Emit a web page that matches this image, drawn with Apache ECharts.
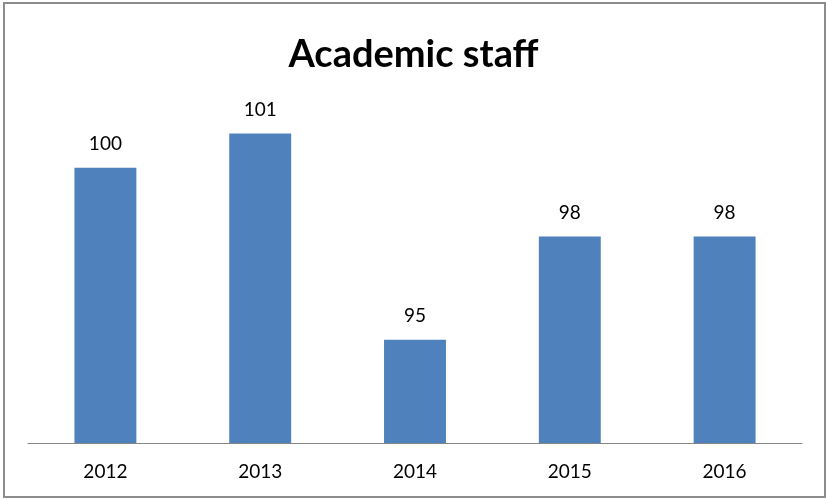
<!DOCTYPE html>
<html style="height: 100%">
<head>
    <meta charset="utf-8">
</head>
<body style="height: 100%; margin: 0">
<div id="container" style="width: 827px; height: 499px"></div>
<script type="text/javascript" src="https://cdn.jsdelivr.net/npm/echarts@6/dist/echarts.min.js"></script>
<script type="text/javascript">
    var years = ['2012', '2013', '2014', '2015', '2016'];
    var staff = [100, 101, 95, 98, 98];

    var myChart = echarts.init(document.getElementById("container"));
    var option = {
        backgroundColor: '#fff',
        title: {
            text: 'Academic staff',
            left: 'center',
            top: 31,
            textStyle: {fontFamily: 'Lato', fontWeight: 'bold', fontSize: 38, color: '#000'}
        },
        graphic: [{
            type: 'rect',
            shape: {x: 4, y: 3, width: 821, height: 494},
            style: {fill: null, stroke: '#8c8c8c', lineWidth: 2},
            silent: true
        }],
        grid: {left: 28, right: 25, top: 99, bottom: 56},
        xAxis: {
            type: 'category',
            data: years,
            axisLine: {lineStyle: {color: '#868686', width: 1}},
            axisTick: {show: false},
            axisLabel: {fontFamily: 'Lato', fontSize: 19, color: '#000', margin: 19}
        },
        yAxis: {
            type: 'value',
            min: 92,
            max: 102,
            show: false
        },
        series: [{
            type: 'bar',
            data: staff,
            barWidth: '40%',
            itemStyle: {color: '#4F81BD'},
            label: {show: true, position: 'top', distance: 14, fontFamily: 'Lato', fontSize: 19, color: '#000'}
        }]
    };
    myChart.setOption(option, true);
</script>
</body>
</html>
